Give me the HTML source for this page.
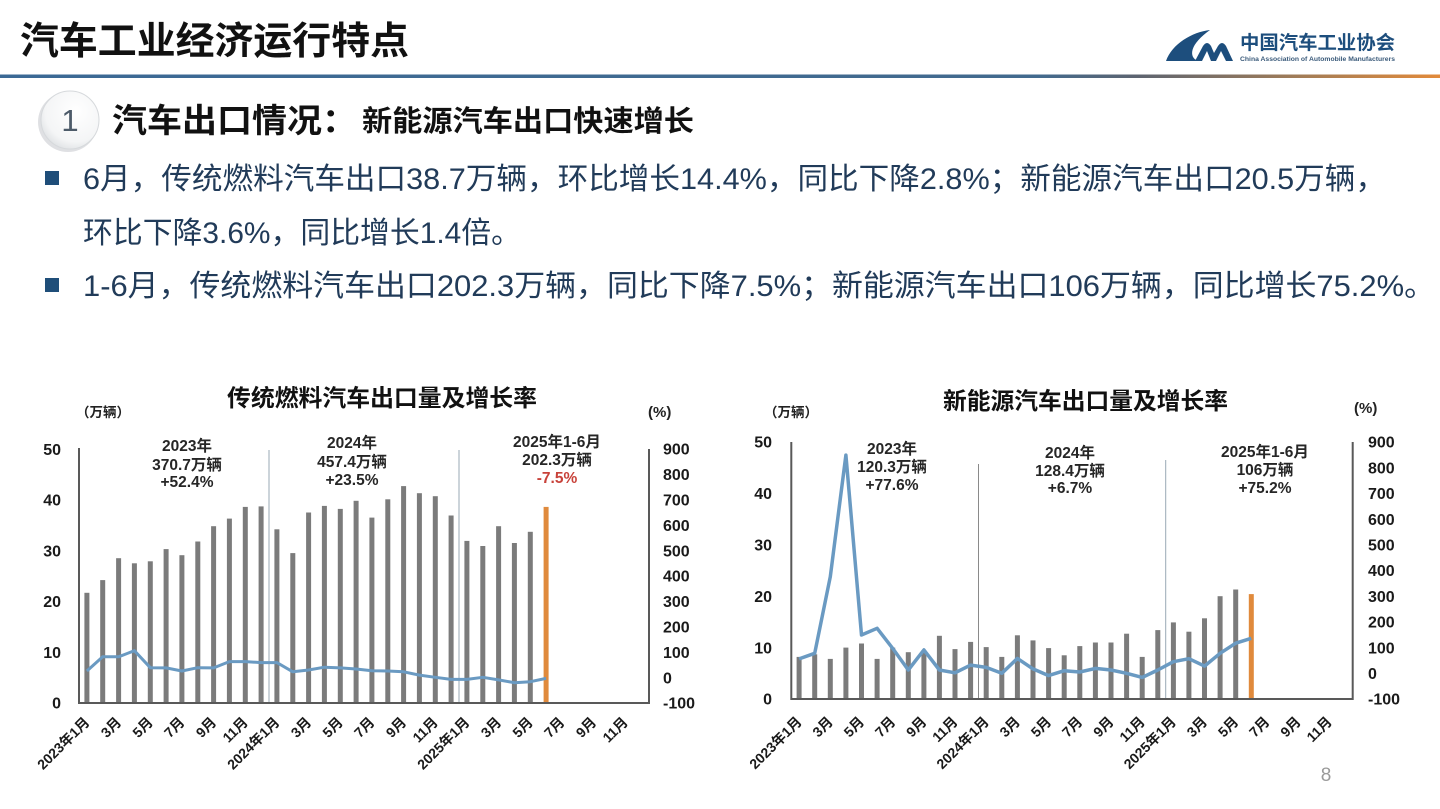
<!DOCTYPE html>
<html><head><meta charset="utf-8"><style>
html,body{margin:0;padding:0;background:#fff;}
body{width:1440px;height:809px;overflow:hidden;}
svg{display:block;}
text{font-family:"Liberation Sans","Noto Sans CJK SC",sans-serif;}
.b{font-weight:700;}
.xl text{font-size:14px;font-weight:700;fill:#1a1a1a;text-anchor:end;dominant-baseline:central;}
.yl text{font-size:16px;font-weight:700;fill:#1a1a1a;}
.an text{font-size:15.5px;font-weight:700;fill:#262626;text-anchor:middle;}
.bar{fill:#7b7b7b;}
</style></head><body>
<svg width="1440" height="809" viewBox="0 0 1440 809" xmlns="http://www.w3.org/2000/svg">
<defs>
<linearGradient id="hl" x1="0" x2="1" y1="0" y2="0">
<stop offset="0" stop-color="#3b6995"/><stop offset="0.72" stop-color="#426a8e"/><stop offset="0.79" stop-color="#5d6470"/><stop offset="0.9" stop-color="#a07c58"/><stop offset="1" stop-color="#e28a3a"/>
</linearGradient>
<radialGradient id="cg" cx="0.6" cy="0.35" r="0.75">
<stop offset="0" stop-color="#ffffff"/><stop offset="0.7" stop-color="#f4f5f6"/><stop offset="1" stop-color="#d9dcdf"/>
</radialGradient>
</defs>

<!-- header -->
<text x="20" y="54" font-size="38" class="b" fill="#111" textLength="389" lengthAdjust="spacingAndGlyphs">汽车工业经济运行特点</text>
<rect x="0" y="74.5" width="1440" height="3.5" fill="url(#hl)"/>

<!-- logo -->
<path d="M1210,30 C1192,32 1172,44 1166,61 L1198,61 C1188,57 1190,44 1210,30 Z" fill="#1d4e7d"/>
<path d="M1195,61 L1203,46 Q1207,40 1211,46 L1214,53 L1218,46 Q1222,40 1226,46 L1233,61 L1226,61 L1221,51 L1216,61 L1211,61 L1207,51 L1202,61 Z" fill="#1d4e7d"/>
<text x="1240" y="49" font-size="19" class="b" fill="#1d4e7d" textLength="155" lengthAdjust="spacingAndGlyphs">中国汽车工业协会</text>
<text x="1240" y="61" font-size="6.5" class="b" fill="#3a5a7a" textLength="155" lengthAdjust="spacingAndGlyphs">China Association of Automobile Manufacturers</text>

<!-- section heading -->
<circle cx="68" cy="122" r="30" fill="#c9ccd0" opacity="0.6"/>
<circle cx="70" cy="120" r="29" fill="url(#cg)" stroke="#d6d9dc" stroke-width="1"/>
<text x="70" y="131" font-size="31" fill="#4d5b69" text-anchor="middle">1</text>
<text x="112" y="132" font-size="33" class="b" fill="#111" textLength="245" lengthAdjust="spacingAndGlyphs">汽车出口情况：</text>
<text x="362" y="131" font-size="29" class="b" fill="#111" textLength="332" lengthAdjust="spacingAndGlyphs">新能源汽车出口快速增长</text>

<!-- bullets -->
<rect x="45" y="171" width="14" height="14" fill="#1f4e79"/>
<rect x="45" y="278" width="14" height="14" fill="#1f4e79"/>
<text x="83" y="189" font-size="30" fill="#213b59" textLength="1303" lengthAdjust="spacingAndGlyphs">6月，传统燃料汽车出口38.7万辆，环比增长14.4%，同比下降2.8%；新能源汽车出口20.5万辆，</text>
<text x="83" y="243" font-size="30" fill="#213b59" textLength="438" lengthAdjust="spacingAndGlyphs">环比下降3.6%，同比增长1.4倍。</text>
<text x="83" y="296" font-size="30" fill="#213b59" textLength="1352" lengthAdjust="spacingAndGlyphs">1-6月，传统燃料汽车出口202.3万辆，同比下降7.5%；新能源汽车出口106万辆，同比增长75.2%。</text>

<!-- ============ LEFT CHART ============ -->
<text x="227" y="406" font-size="23.5" class="b" fill="#111" textLength="310" lengthAdjust="spacingAndGlyphs">传统燃料汽车出口量及增长率</text>
<text x="76" y="417" font-size="13.5" class="b" fill="#222">（万辆）</text>
<text x="648" y="417" font-size="15" class="b" fill="#222">(%)</text>

<g class="bar">
<rect x="84.4" y="592.8" width="5" height="110.2"/>
<rect x="100.2" y="580.1" width="5" height="122.9"/>
<rect x="116.1" y="558.2" width="5" height="144.8"/>
<rect x="131.9" y="563.3" width="5" height="139.7"/>
<rect x="147.8" y="561.3" width="5" height="141.7"/>
<rect x="163.6" y="549.1" width="5" height="153.9"/>
<rect x="179.4" y="555.2" width="5" height="147.8"/>
<rect x="195.3" y="541.5" width="5" height="161.5"/>
<rect x="211.1" y="526.2" width="5" height="176.8"/>
<rect x="226.9" y="518.6" width="5" height="184.4"/>
<rect x="242.8" y="506.9" width="5" height="196.1"/>
<rect x="258.6" y="506.4" width="5" height="196.6"/>
<rect x="274.4" y="529.3" width="5" height="173.7"/>
<rect x="290.3" y="553.1" width="5" height="149.9"/>
<rect x="306.1" y="512.5" width="5" height="190.5"/>
<rect x="321.9" y="505.9" width="5" height="197.1"/>
<rect x="337.8" y="508.9" width="5" height="194.1"/>
<rect x="353.6" y="500.8" width="5" height="202.2"/>
<rect x="369.4" y="517.6" width="5" height="185.4"/>
<rect x="385.3" y="499.3" width="5" height="203.7"/>
<rect x="401.1" y="486.1" width="5" height="216.9"/>
<rect x="416.9" y="493.2" width="5" height="209.8"/>
<rect x="432.8" y="496.2" width="5" height="206.8"/>
<rect x="448.6" y="515.5" width="5" height="187.5"/>
<rect x="464.4" y="540.9" width="5" height="162.1"/>
<rect x="480.3" y="546.0" width="5" height="157.0"/>
<rect x="496.1" y="526.2" width="5" height="176.8"/>
<rect x="511.9" y="543.0" width="5" height="160.0"/>
<rect x="527.8" y="531.8" width="5" height="171.2"/>
</g>
<rect x="543.6" y="506.9" width="5" height="196.1" fill="#e08a3c"/>

<line x1="269" y1="450" x2="269" y2="703" stroke="#9aa8b5" stroke-width="1"/>
<line x1="459" y1="450" x2="459" y2="703" stroke="#9aa8b5" stroke-width="1"/>

<polyline fill="none" stroke="#6a9ac2" stroke-width="3" stroke-linejoin="round" points="86.9,671.0 102.7,656.8 118.6,656.8 134.4,650.7 150.3,667.7 166.1,667.9 181.9,671.0 197.8,667.7 213.6,667.9 229.4,661.6 245.3,661.6 261.1,662.6 276.9,662.6 292.8,671.8 308.6,670.0 324.4,667.2 340.3,667.9 356.1,669.0 371.9,670.7 387.8,671.0 403.6,671.8 419.4,675.1 435.3,677.3 451.1,679.4 466.9,679.4 482.8,677.3 498.6,679.9 514.4,682.7 530.3,681.7 546.1,678.4"/>

<path d="M79,448 L79,703 L649,703 L649,449" fill="none" stroke="#595959" stroke-width="2"/>

<g class="yl" text-anchor="end">
<text x="61" y="455">50</text>
<text x="61" y="505.5">40</text>
<text x="61" y="556.3">30</text>
<text x="61" y="607">20</text>
<text x="61" y="658">10</text>
<text x="61" y="708.7">0</text>
</g>
<g class="yl">
<text x="663" y="454.7">900</text>
<text x="663" y="480.1">800</text>
<text x="663" y="505.5">700</text>
<text x="663" y="530.9">600</text>
<text x="663" y="556.3">500</text>
<text x="663" y="581.7">400</text>
<text x="663" y="607.1">300</text>
<text x="663" y="632.5">200</text>
<text x="663" y="657.9">100</text>
<text x="663" y="683.3">0</text>
<text x="663" y="708.7">-100</text>
</g>

<g class="an">
<text x="187" y="451">2023年</text>
<text x="187" y="470">370.7万辆</text>
<text x="187" y="487">+52.4%</text>
<text x="352" y="448">2024年</text>
<text x="352" y="467">457.4万辆</text>
<text x="352" y="485">+23.5%</text>
<text x="557" y="447">2025年1-6月</text>
<text x="557" y="465">202.3万辆</text>
<text x="557" y="483" style="fill:#c8423a">-7.5%</text>
</g>

<g class="xl">
<text transform="translate(86.9,719.5) rotate(-45)">2023年1月</text>
<text transform="translate(118.6,719.5) rotate(-45)">3月</text>
<text transform="translate(150.3,719.5) rotate(-45)">5月</text>
<text transform="translate(181.9,719.5) rotate(-45)">7月</text>
<text transform="translate(213.6,719.5) rotate(-45)">9月</text>
<text transform="translate(245.3,719.5) rotate(-45)">11月</text>
<text transform="translate(276.9,719.5) rotate(-45)">2024年1月</text>
<text transform="translate(308.6,719.5) rotate(-45)">3月</text>
<text transform="translate(340.3,719.5) rotate(-45)">5月</text>
<text transform="translate(371.9,719.5) rotate(-45)">7月</text>
<text transform="translate(403.6,719.5) rotate(-45)">9月</text>
<text transform="translate(435.3,719.5) rotate(-45)">11月</text>
<text transform="translate(466.9,719.5) rotate(-45)">2025年1月</text>
<text transform="translate(498.6,719.5) rotate(-45)">3月</text>
<text transform="translate(530.3,719.5) rotate(-45)">5月</text>
<text transform="translate(561.9,719.5) rotate(-45)">7月</text>
<text transform="translate(593.6,719.5) rotate(-45)">9月</text>
<text transform="translate(625.3,719.5) rotate(-45)">11月</text>
</g>

<!-- ============ RIGHT CHART ============ -->
<text x="943" y="409" font-size="23.5" class="b" fill="#111" textLength="285" lengthAdjust="spacingAndGlyphs">新能源汽车出口量及增长率</text>
<text x="764" y="417" font-size="13.5" class="b" fill="#222">（万辆）</text>
<text x="1354" y="413" font-size="15" class="b" fill="#222">(%)</text>

<g class="bar">
<rect x="796.6" y="656.9" width="5" height="42.1"/>
<rect x="812.2" y="654.3" width="5" height="44.7"/>
<rect x="827.8" y="658.9" width="5" height="40.1"/>
<rect x="843.4" y="647.6" width="5" height="51.4"/>
<rect x="859.0" y="643.5" width="5" height="55.5"/>
<rect x="874.6" y="658.9" width="5" height="40.1"/>
<rect x="890.2" y="647.6" width="5" height="51.4"/>
<rect x="905.8" y="652.2" width="5" height="46.8"/>
<rect x="921.4" y="652.7" width="5" height="46.3"/>
<rect x="936.9" y="635.8" width="5" height="63.2"/>
<rect x="952.5" y="649.1" width="5" height="49.9"/>
<rect x="968.1" y="641.9" width="5" height="57.1"/>
<rect x="983.7" y="647.1" width="5" height="51.9"/>
<rect x="999.3" y="656.9" width="5" height="42.1"/>
<rect x="1014.9" y="635.3" width="5" height="63.7"/>
<rect x="1030.5" y="640.4" width="5" height="58.6"/>
<rect x="1046.1" y="648.1" width="5" height="50.9"/>
<rect x="1061.7" y="655.3" width="5" height="43.7"/>
<rect x="1077.3" y="646.1" width="5" height="52.9"/>
<rect x="1092.9" y="642.5" width="5" height="56.5"/>
<rect x="1108.5" y="642.5" width="5" height="56.5"/>
<rect x="1124.1" y="633.7" width="5" height="65.3"/>
<rect x="1139.7" y="656.9" width="5" height="42.1"/>
<rect x="1155.3" y="630.1" width="5" height="68.9"/>
<rect x="1170.9" y="622.4" width="5" height="76.6"/>
<rect x="1186.4" y="631.7" width="5" height="67.3"/>
<rect x="1202.0" y="618.3" width="5" height="80.7"/>
<rect x="1217.6" y="596.2" width="5" height="102.8"/>
<rect x="1233.2" y="589.5" width="5" height="109.5"/>
</g>
<rect x="1248.8" y="594.1" width="5" height="104.9" fill="#e08a3c"/>

<line x1="978.5" y1="464" x2="978.5" y2="699" stroke="#8a8a8a" stroke-width="1"/>
<line x1="1165.7" y1="460" x2="1165.7" y2="699" stroke="#9aa8b5" stroke-width="1"/>

<polyline fill="none" stroke="#6a9ac2" stroke-width="3.5" stroke-linejoin="round" points="799.1,658.9 814.7,653.3 830.3,576.7 845.9,455.1 861.5,635.0 877.1,628.3 892.7,648.4 908.3,670.0 923.9,649.9 939.4,670.0 955.0,672.8 970.6,665.1 986.2,667.4 1001.8,673.3 1017.4,658.4 1033.0,668.9 1048.6,675.6 1064.2,670.7 1079.8,672.0 1095.4,668.4 1111.0,670.0 1126.6,673.3 1142.2,677.4 1157.8,670.0 1173.4,661.7 1188.9,658.7 1204.5,666.1 1220.1,653.3 1235.7,643.2 1251.3,638.3"/>

<path d="M791.3,442 L791.3,699 L1352.7,699 L1352.7,442" fill="none" stroke="#595959" stroke-width="2"/>

<g class="yl" text-anchor="end">
<text x="772" y="447.7">50</text>
<text x="772" y="499.1">40</text>
<text x="772" y="550.5">30</text>
<text x="772" y="601.9">20</text>
<text x="772" y="653.3">10</text>
<text x="772" y="704.7">0</text>
</g>
<g class="yl">
<text x="1368" y="447.7">900</text>
<text x="1368" y="473.4">800</text>
<text x="1368" y="499.1">700</text>
<text x="1368" y="524.8">600</text>
<text x="1368" y="550.5">500</text>
<text x="1368" y="576.2">400</text>
<text x="1368" y="601.9">300</text>
<text x="1368" y="627.6">200</text>
<text x="1368" y="653.3">100</text>
<text x="1368" y="679">0</text>
<text x="1368" y="704.7">-100</text>
</g>

<g class="an">
<text x="892" y="454">2023年</text>
<text x="892" y="472">120.3万辆</text>
<text x="892" y="490">+77.6%</text>
<text x="1070" y="458">2024年</text>
<text x="1070" y="476">128.4万辆</text>
<text x="1070" y="493">+6.7%</text>
<text x="1265" y="457">2025年1-6月</text>
<text x="1265" y="475">106万辆</text>
<text x="1265" y="493">+75.2%</text>
</g>

<g class="xl">
<text transform="translate(799.1,719) rotate(-45)">2023年1月</text>
<text transform="translate(830.3,719) rotate(-45)">3月</text>
<text transform="translate(861.5,719) rotate(-45)">5月</text>
<text transform="translate(892.7,719) rotate(-45)">7月</text>
<text transform="translate(923.9,719) rotate(-45)">9月</text>
<text transform="translate(955.0,719) rotate(-45)">11月</text>
<text transform="translate(986.2,719) rotate(-45)">2024年1月</text>
<text transform="translate(1017.4,719) rotate(-45)">3月</text>
<text transform="translate(1048.6,719) rotate(-45)">5月</text>
<text transform="translate(1079.8,719) rotate(-45)">7月</text>
<text transform="translate(1111.0,719) rotate(-45)">9月</text>
<text transform="translate(1142.2,719) rotate(-45)">11月</text>
<text transform="translate(1173.4,719) rotate(-45)">2025年1月</text>
<text transform="translate(1204.5,719) rotate(-45)">3月</text>
<text transform="translate(1235.7,719) rotate(-45)">5月</text>
<text transform="translate(1266.9,719) rotate(-45)">7月</text>
<text transform="translate(1298.1,719) rotate(-45)">9月</text>
<text transform="translate(1329.3,719) rotate(-45)">11月</text>
</g>

<text x="1326" y="781" font-size="19" fill="#9a9a9a" text-anchor="middle">8</text>
</svg>
</body></html>
